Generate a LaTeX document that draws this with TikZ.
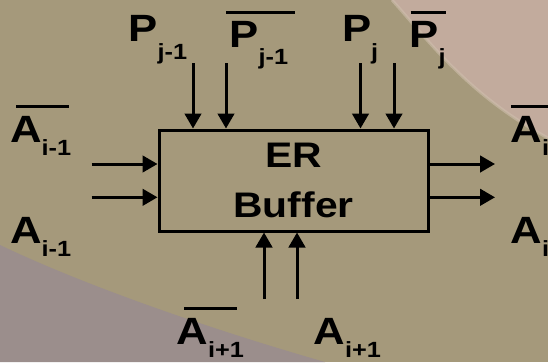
\documentclass[tikz,border=0pt]{standalone}
\usepackage{fontspec}
\setmainfont{Liberation Sans}[FakeStretch=1.15]
\usetikzlibrary{arrows.meta}
\definecolor{bgbase}{RGB}{165,153,123}
\definecolor{bgpink}{RGB}{194,171,157}
\definecolor{bgpurple}{RGB}{155,142,140}
\definecolor{bgedge}{RGB}{206,190,172}
\newcommand{\lsub}[2]{\raisebox{-#1pt}{\fontsize{22}{22}\selectfont #2}}
\begin{document}
\begin{tikzpicture}[x=1pt,y=-1pt,
  lbl/.style={anchor=base west,inner sep=0pt,outer sep=0pt,font=\fontsize{38}{38}\selectfont\bfseries},
  sig/.style={line width=3pt,-{Triangle[length=15pt,width=16.5pt]}},
  bar/.style={line width=2.8pt},
  buffer/.style={draw,line width=3pt,minimum width=269pt,minimum height=101pt,inner sep=0pt,align=center,font=\fontsize{35.5}{50}\selectfont\bfseries}]
\useasboundingbox (0,0) rectangle (548,362);
% background
\fill[bgbase] (0,0) rectangle (548,362);
\fill[bgpink] (392,0) .. controls (428,40) and (468,95) .. (548,138) -- (548,0) -- cycle;
\draw[bgedge,line width=3pt,opacity=0.6] (392,0) .. controls (428,40) and (468,95) .. (548,138);
\fill[bgpurple] (0,245) .. controls (90,288) and (220,332) .. (325,362) -- (0,362) -- cycle;
% box
\node[buffer] (buf) at (293.5,180.5) {ER\\Buffer};
% labels
\node[lbl] (p1)  at (128.5,41.5) {P\lsub{18}{j-1}};
\node[lbl] (p1b) at (229.5,47)   {P\lsub{17}{j-1}};
\node[lbl] (p2)  at (342,41.5)   {P\lsub{18}{j}};
\node[lbl] (p2b) at (409.5,47)   {P\lsub{17}{j}};
\node[lbl] (a1b) at (10,142.7)   {A\lsub{13}{i-1}};
\node[lbl] (a1)  at (10,243.3)   {A\lsub{13}{i-1}};
\node[lbl] (a2b) at (510.5,142.5) {A\lsub{13}{i}};
\node[lbl] (a2)  at (510.5,243.3) {A\lsub{13}{i}};
\node[lbl] (a3b) at (176.5,344.7) {A\lsub{13}{i+1}};
\node[lbl] (a3)  at (313.5,344.7) {A\lsub{13}{i+1}};
% overlines
\draw[bar] (226,12.7) -- (295,12.7);
\draw[bar] (410.5,12.7) -- (446,12.7);
\draw[bar] (16,106.7) -- (69,106.7);
\draw[bar] (511,106.7) -- (548,106.7);
\draw[bar] (184,308.3) -- (236.5,308.3);
% free ends of connectors
\coordinate (t1) at (193,63);
\coordinate (t2) at (226,63);
\coordinate (t3) at (360.5,63);
\coordinate (t4) at (394,63);
\coordinate (l1) at (91.5,164);
\coordinate (l2) at (91.5,197.3);
\coordinate (r1) at (495,164);
\coordinate (r2) at (495,197.3);
\coordinate (b1) at (264,299);
\coordinate (b2) at (297,299);
% connectors
\draw[sig] (t1) -- (t1 |- buf.north);
\draw[sig] (t2) -- (t2 |- buf.north);
\draw[sig] (t3) -- (t3 |- buf.north);
\draw[sig] (t4) -- (t4 |- buf.north);
\draw[sig] (l1) -- (l1 -| buf.west);
\draw[sig] (l2) -- (l2 -| buf.west);
\draw[sig] (r1 -| buf.east) -- (r1);
\draw[sig] (r2 -| buf.east) -- (r2);
\draw[sig] (b1) -- (b1 |- buf.south);
\draw[sig] (b2) -- (b2 |- buf.south);
\end{tikzpicture}
\end{document}
